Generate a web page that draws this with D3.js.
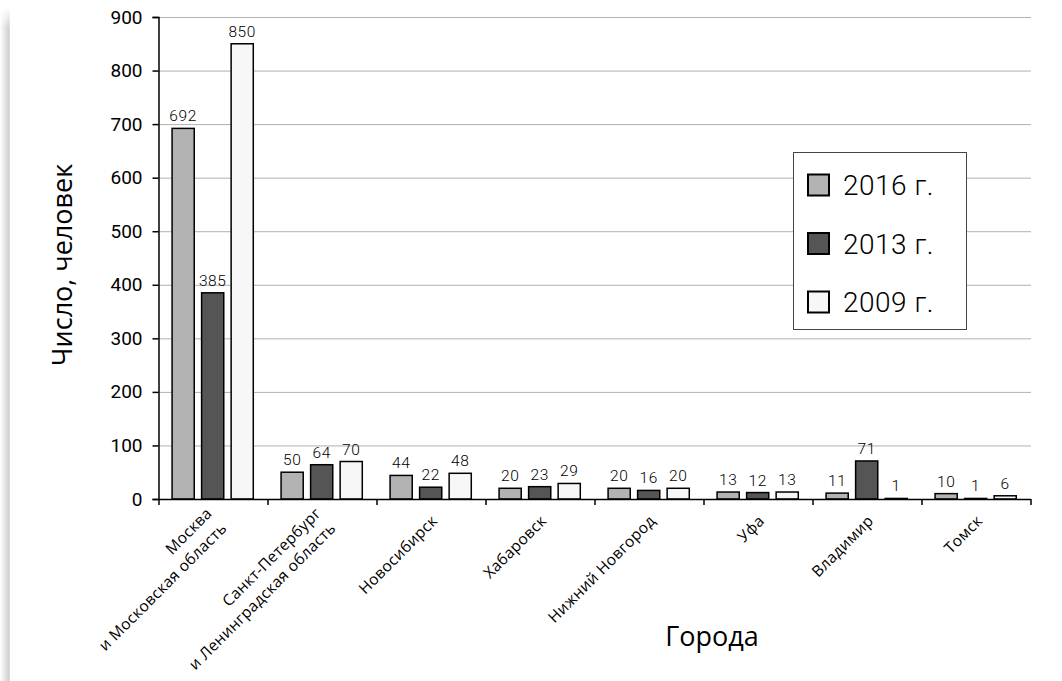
<!DOCTYPE html>
<html>
<head>
<meta charset="utf-8">
<script src="https://cdn.jsdelivr.net/npm/d3@7"></script>
<style>
  body { margin: 0; background: #fff; }
  svg { display: block; }
</style>
</head>
<body>
<script>
const width = 1062, height = 681
const margin = ({top: 17, right: 31, bottom: 182, left: 159})

// data
const cities = [
  ["Москва", "и Московская область"],
  ["Санкт-Петербург", "и Ленинградская область"],
  ["Новосибирск"],
  ["Хабаровск"],
  ["Нижний Новгород"],
  ["Уфа"],
  ["Владимир"],
  ["Томск"]
]
const years = ["2016 г.", "2013 г.", "2009 г."]
const v2016 = [692, 50, 44, 20, 20, 13, 11, 10]
const v2013 = [385, 64, 22, 23, 16, 12, 71, 1]
const v2009 = [850, 70, 48, 29, 20, 13, 1, 6]
const yTicks = [0, 100, 200, 300, 400, 500, 600, 700, 800, 900]

const series = [v2016, v2013, v2009]
const data = cities.map((c, i) => ({
  name: c.join(" "),
  lines: c,
  values: years.map((y, k) => ({key: y, value: series[k][i]}))
}))

const color = d3.scaleOrdinal()
  .domain(years)
  .range(["#b3b3b3", "#555555", "#f7f7f7"])

const x0 = d3.scaleBand()
  .domain(data.map(d => d.name))
  .range([margin.left, width - margin.right])

const x1 = d3.scaleBand()
  .domain(years)
  .range([x0.bandwidth() * 0.12, x0.bandwidth() * 0.865])
  .paddingInner(0.25)

const y = d3.scaleLinear()
  .domain([0, 900])
  .range([height - margin.bottom, margin.top])

const svg = d3.select("body").append("svg")
  .attr("width", width)
  .attr("height", height)

// card shadow on the left edge
const defs = svg.append("defs")
const sh = defs.append("linearGradient").attr("id", "shadow")
sh.append("stop").attr("offset", "0%").attr("stop-color", "#fff")
sh.append("stop").attr("offset", "90%").attr("stop-color", "#cfcfcf")
sh.append("stop").attr("offset", "100%").attr("stop-color", "#e6e6e6")
const fade = defs.append("linearGradient").attr("id", "fade")
  .attr("x1", 0).attr("x2", 0).attr("y1", 0).attr("y2", 1)
fade.append("stop").attr("offset", "0%").attr("stop-color", "#000")
fade.append("stop").attr("offset", "3%").attr("stop-color", "#fff")
defs.append("mask").attr("id", "fadeMask")
  .attr("maskContentUnits", "objectBoundingBox")
  .append("rect").attr("width", 1).attr("height", 1).attr("fill", "url(#fade)")
svg.append("rect")
  .attr("x", 0).attr("y", 8)
  .attr("width", 10).attr("height", height - 8)
  .attr("fill", "url(#shadow)")
  .attr("mask", "url(#fadeMask)")

// grid
svg.append("g")
  .selectAll("line")
  .data(yTicks.slice(1))
  .join("line")
    .attr("x1", margin.left)
    .attr("x2", width - margin.right)
    .attr("y1", d => y(d) + 0.5)
    .attr("y2", d => y(d) + 0.5)
    .attr("stroke", "#b0b0b0")
    .attr("stroke-width", 1)

// bars
const groups = svg.append("g")
  .selectAll("g")
  .data(data)
  .join("g")
    .attr("transform", d => `translate(${x0(d.name)},0)`)

groups.selectAll("rect")
  .data(d => d.values)
  .join("rect")
    .attr("x", d => x1(d.key))
    .attr("y", d => y(d.value))
    .attr("width", x1.bandwidth())
    .attr("height", d => y(0) - y(d.value))
    .attr("fill", d => color(d.key))
    .attr("stroke", "#000")
    .attr("stroke-width", 1.5)

groups.selectAll("text")
  .data(d => d.values)
  .join("text")
    .attr("x", d => x1(d.key) + x1.bandwidth() / 2)
    .attr("y", d => y(d.value) - 7)
    .attr("text-anchor", "middle")
    .attr("font-family", "Roboto, sans-serif")
    .attr("font-weight", 300)
    .attr("font-size", 15.5)
    .attr("letter-spacing", 0.6)
    .attr("fill", "#000")
    .text(d => d.value)

// y axis
const yAxis = g => g
  .attr("transform", `translate(${margin.left - 0.5},0)`)
  .call(d3.axisLeft(y).tickValues(yTicks).tickSize(6).tickPadding(10))
  .call(g => g.select(".domain").attr("stroke-width", 1.5))
  .call(g => g.selectAll(".tick line").attr("stroke-width", 1.5))
  .call(g => g.selectAll(".tick text")
    .attr("font-family", "Roboto, sans-serif")
    .attr("font-size", 19)
    .attr("fill", "#000"))

svg.append("g").call(yAxis)

// x axis
const xAxis = g => g
  .attr("transform", `translate(0,${y(0) + 0.5})`)
  .call(d3.axisBottom(x0).tickSize(0).tickFormat(""))
  .call(g => g.select(".domain").attr("stroke-width", 1.5).attr("d", `M${margin.left},0H${width - margin.right}`))

svg.append("g").call(xAxis)

svg.append("g")
  .selectAll("line")
  .data(data.map(d => x0(d.name)).concat([x0.range()[1]]))
  .join("line")
    .attr("x1", d => d).attr("x2", d => d)
    .attr("y1", y(0)).attr("y2", y(0) + 6)
    .attr("stroke", "#000")
    .attr("stroke-width", 1.5)

// category labels
const labels = svg.append("g")
  .selectAll("g")
  .data(data)
  .join("g")
    .attr("transform", d => `translate(${x0(d.name) + x0.bandwidth() / 2 + 3},${y(0) + 19}) rotate(-45)`)

labels.selectAll("text")
  .data(d => d.lines.map((t, i) => ({t, i, n: d.lines.length})))
  .join("text")
    .attr("y", d => (d.i - (d.n - 1) / 2) * 21)
    .attr("dy", "0.35em")
    .attr("text-anchor", "end")
    .attr("font-family", "'Open Sans', sans-serif")
    .attr("font-size", 15.5)
    .attr("letter-spacing", 0.3)
    .attr("fill", "#000")
    .text(d => d.t)

// axis titles
svg.append("text")
  .attr("transform", `translate(72,265) rotate(-90)`)
  .attr("text-anchor", "middle")
  .attr("font-family", "'Open Sans', sans-serif")
  .attr("font-size", 27)
  .attr("fill", "#000")
  .text("Число, человек")

svg.append("text")
  .attr("x", 712)
  .attr("y", 646)
  .attr("text-anchor", "middle")
  .attr("font-family", "'Open Sans', sans-serif")
  .attr("font-size", 27)
  .attr("fill", "#000")
  .text("Города")

// legend
const legend = svg.append("g")
  .attr("transform", "translate(793,152)")

legend.append("rect")
  .attr("x", 0.5).attr("y", 0.5)
  .attr("width", 173).attr("height", 177)
  .attr("fill", "#fff")
  .attr("stroke", "#444")
  .attr("stroke-width", 1)

const item = legend.selectAll("g")
  .data(years)
  .join("g")
    .attr("transform", (d, i) => `translate(0,${33 + i * 58.5})`)

item.append("rect")
  .attr("x", 15)
  .attr("y", -10.5)
  .attr("width", 21)
  .attr("height", 21)
  .attr("fill", color)
  .attr("stroke", "#000")
  .attr("stroke-width", 2)

item.append("text")
  .attr("x", 50)
  .attr("dy", "0.36em")
  .attr("font-family", "Roboto, sans-serif")
  .attr("font-weight", 300)
  .attr("font-size", 28)
  .attr("letter-spacing", 0.5)
  .attr("fill", "#000")
  .text(d => d)
</script>
</body>
</html>
